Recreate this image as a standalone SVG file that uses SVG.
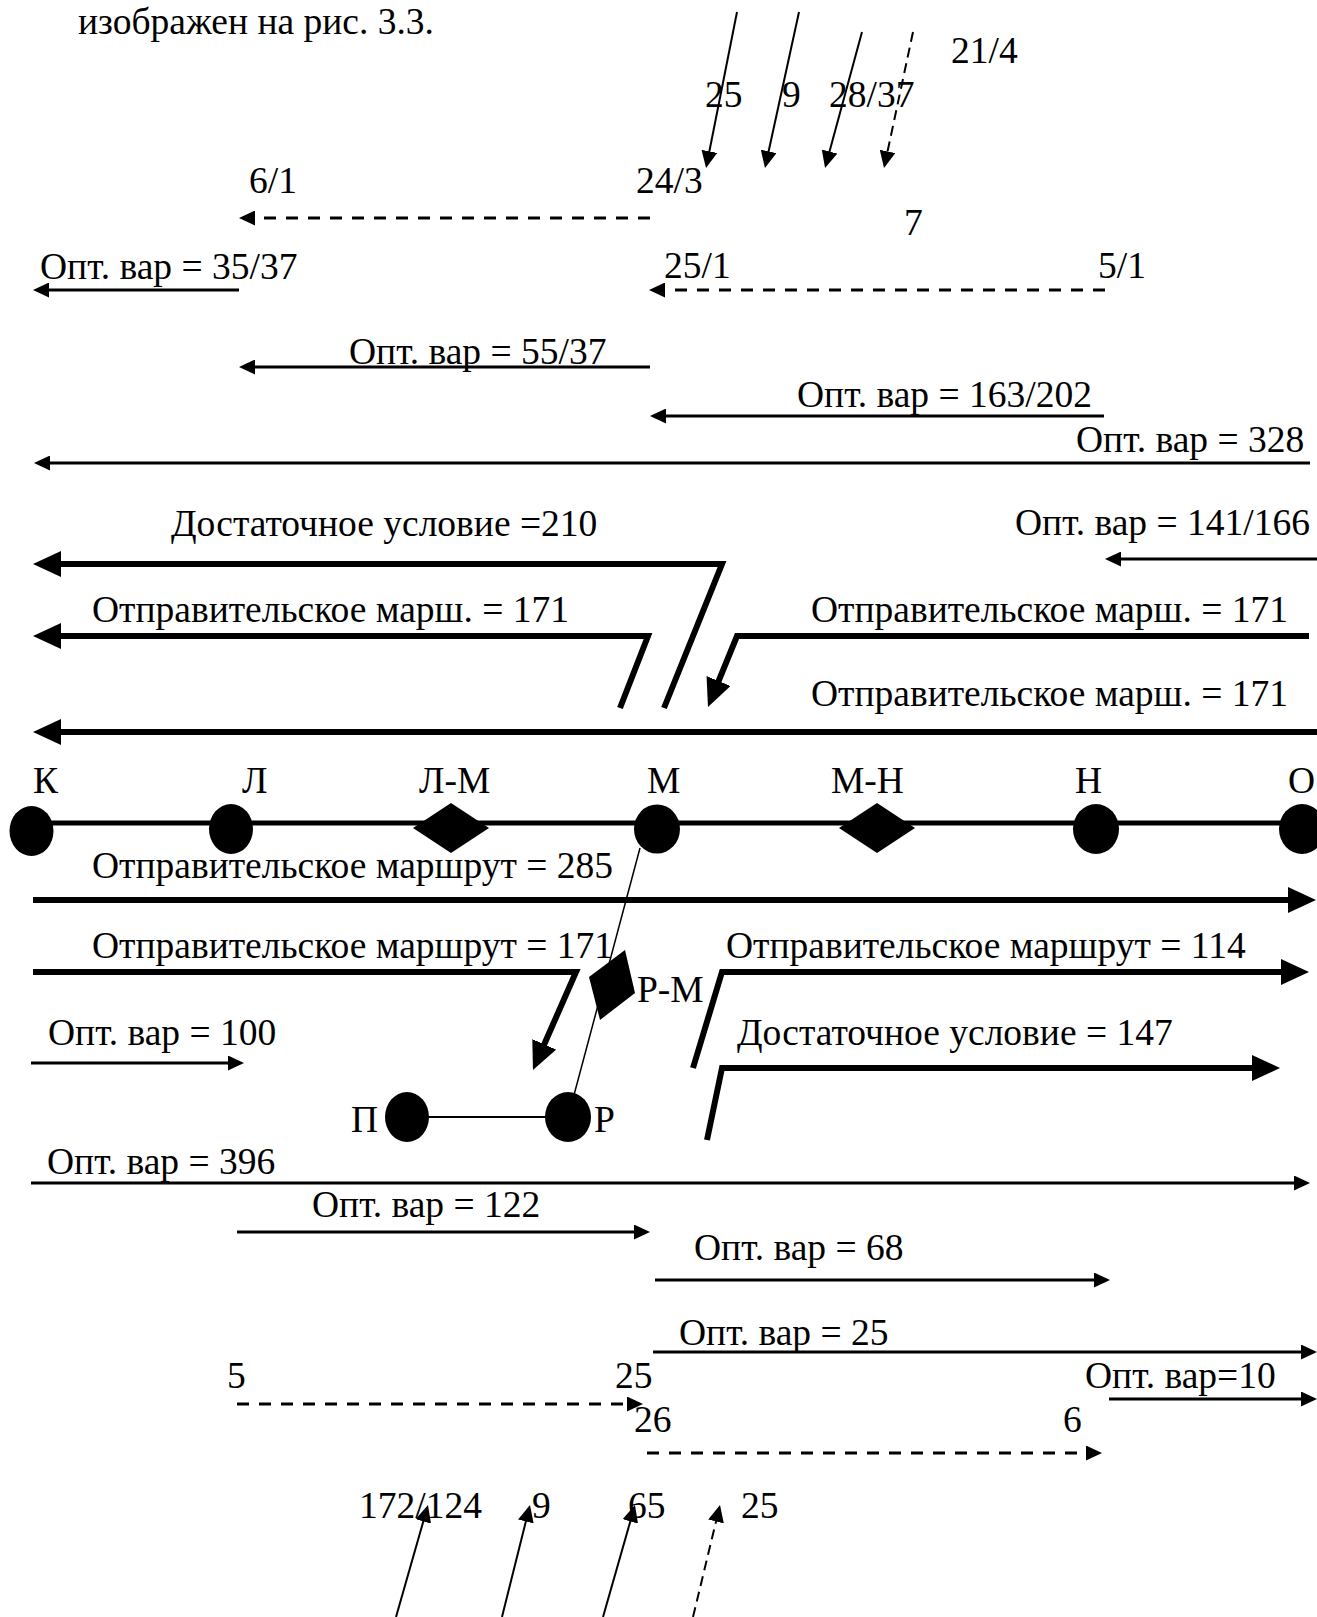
<svg xmlns="http://www.w3.org/2000/svg" width="1317" height="1617" viewBox="0 0 1317 1617">
  <style>
    text { font-family: "Liberation Serif", "Times New Roman", serif; font-size: 37.5px; fill: #000; }
    .thin { fill: none; stroke: #000; stroke-width: 3; }
    .thick { fill: none; stroke: #000; stroke-width: 6; stroke-linejoin: miter; stroke-miterlimit: 10; }
    .slim { fill: none; stroke: #000; stroke-width: 2; }
    .dash { fill: none; stroke: #000; stroke-width: 3; stroke-dasharray: 12 10; }
    .dash-slim { fill: none; stroke: #000; stroke-width: 2; stroke-dasharray: 10 6; }
    .track { fill: none; stroke: #000; stroke-width: 5; }
    .spur { fill: none; stroke: #000; stroke-width: 2; }
    .link { fill: none; stroke: #000; stroke-width: 1.5; }
    .dot, .rhomb { fill: #000; }
  </style>
  <defs>
    <marker id="ah" markerUnits="userSpaceOnUse" viewBox="0 0 16 15" markerWidth="16" markerHeight="15" refX="6" refY="7.5" orient="auto">
      <path d="M0,0 L16,7.5 L0,15 z" fill="#000"/>
    </marker>
    <marker id="ah-thick" markerUnits="userSpaceOnUse" viewBox="0 0 28 26" markerWidth="28" markerHeight="26" refX="10" refY="13" orient="auto">
      <path d="M0,0 L28,13 L0,26 z" fill="#000"/>
    </marker>
    <marker id="ah-slim" markerUnits="userSpaceOnUse" viewBox="0 0 17 16" markerWidth="17" markerHeight="16" refX="8" refY="8" orient="auto">
      <path d="M0,0 L17,8 L0,16 z" fill="#000"/>
    </marker>
  </defs>

  <rect width="1317" height="1617" fill="#fff"/>

  <!-- caption line above the figure -->
  <text x="78" y="34">изображен на рис. 3.3.</text>

  <!-- station line -->
  <g id="track">
    <line class="track" x1="31" y1="823" x2="1302" y2="823"/>
    <line class="spur" x1="407" y1="1117" x2="568" y2="1117"/>
    <line class="link" x1="640" y1="848" x2="574" y2="1095"/>
  </g>

  <!-- nodes -->
  <g id="node-K"><ellipse class="dot" cx="31.5" cy="831" rx="22" ry="25"/><text x="33" y="793">К</text></g>
  <g id="node-L"><ellipse class="dot" cx="231" cy="829" rx="22" ry="25"/><text x="242" y="793">Л</text></g>
  <g id="node-LM"><polygon class="rhomb" points="413,828 451,803 489,828 451,853"/><text x="419" y="793">Л-М</text></g>
  <g id="node-M"><ellipse class="dot" cx="657" cy="829" rx="23" ry="24.5"/><text x="647" y="793">М</text></g>
  <g id="node-MN"><polygon class="rhomb" points="839,828 877,803 915,828 877,853"/><text x="831" y="793">М-Н</text></g>
  <g id="node-N"><ellipse class="dot" cx="1096" cy="829" rx="23" ry="25"/><text x="1075" y="793">Н</text></g>
  <g id="node-O"><ellipse class="dot" cx="1302" cy="829" rx="23" ry="25"/><text x="1288" y="793">О</text></g>
  <g id="node-P"><ellipse class="dot" cx="407" cy="1117" rx="22" ry="25"/><text x="351" y="1132">П</text></g>
  <g id="node-R"><ellipse class="dot" cx="568" cy="1117" rx="23" ry="25"/><text x="594" y="1132">Р</text></g>
  <g id="node-RM"><polygon class="rhomb" points="625,950 635,993 600,1020 589,977"/><text x="637" y="1002">Р-М</text></g>

  <!-- flows -->
  <g id="connectors">
    <!-- incoming flows at M (top) -->
    <line class="slim" x1="737" y1="12" x2="707.8" y2="159.2" marker-end="url(#ah-slim)"/>
    <line class="slim" x1="799" y1="12" x2="766.9" y2="159.2" marker-end="url(#ah-slim)"/>
    <line class="slim" x1="862" y1="32" x2="827.4" y2="159.3" marker-end="url(#ah-slim)"/>
    <line class="dash-slim" x1="913" y1="32" x2="885.9" y2="159.2" marker-end="url(#ah-slim)"/>

    <!-- westbound -->
    <line class="dash" x1="650" y1="218" x2="249" y2="218" marker-end="url(#ah)"/>
    <line class="thin" x1="239" y1="290" x2="43" y2="290" marker-end="url(#ah)"/>
    <line class="dash" x1="1105" y1="290" x2="659" y2="290" marker-end="url(#ah)"/>
    <line class="thin" x1="650" y1="367" x2="249" y2="367" marker-end="url(#ah)"/>
    <line class="thin" x1="1104" y1="416" x2="660" y2="416" marker-end="url(#ah)"/>
    <line class="thin" x1="1310" y1="463" x2="44" y2="463" marker-end="url(#ah)"/>
    <line class="thin" x1="1317" y1="559" x2="1115" y2="559" marker-end="url(#ah)"/>
    <polyline class="thick" points="664,708 722,564 51,564" marker-end="url(#ah-thick)"/>
    <polyline class="thick" points="620,708 648,636 51,636" marker-end="url(#ah-thick)"/>
    <polyline class="thick" points="1309,636 737,636 714.8,690.3" marker-end="url(#ah-thick)"/>
    <line class="thick" x1="1317" y1="732" x2="51" y2="732" marker-end="url(#ah-thick)"/>

    <!-- eastbound -->
    <line class="thick" x1="33" y1="900" x2="1298" y2="900" marker-end="url(#ah-thick)"/>
    <polyline class="thick" points="33,972 576,972 540.2,1053.5" marker-end="url(#ah-thick)"/>
    <polyline class="thick" points="693,1068 722,972 1291,972" marker-end="url(#ah-thick)"/>
    <polyline class="thick" points="707,1140 722,1068 1262,1068" marker-end="url(#ah-thick)"/>
    <line class="thin" x1="31" y1="1063" x2="234" y2="1063" marker-end="url(#ah)"/>
    <line class="thin" x1="31" y1="1183" x2="1300" y2="1183" marker-end="url(#ah)"/>
    <line class="thin" x1="237" y1="1232" x2="640" y2="1232" marker-end="url(#ah)"/>
    <line class="thin" x1="655" y1="1280" x2="1100" y2="1280" marker-end="url(#ah)"/>
    <line class="thin" x1="653" y1="1352" x2="1307" y2="1352" marker-end="url(#ah)"/>
    <line class="thin" x1="1109" y1="1399" x2="1307" y2="1399" marker-end="url(#ah)"/>
    <line class="dash" x1="237" y1="1404" x2="633" y2="1404" marker-end="url(#ah)"/>
    <line class="dash" x1="647" y1="1453" x2="1092" y2="1453" marker-end="url(#ah)"/>

    <!-- outgoing flows at M (bottom) -->
    <line class="slim" x1="396" y1="1617" x2="425.5" y2="1513.7" marker-end="url(#ah-slim)"/>
    <line class="slim" x1="502" y1="1617" x2="527.8" y2="1513.7" marker-end="url(#ah-slim)"/>
    <line class="slim" x1="603" y1="1617" x2="632.5" y2="1513.7" marker-end="url(#ah-slim)"/>
    <line class="dash-slim" x1="693" y1="1617" x2="717.9" y2="1513.7" marker-end="url(#ah-slim)"/>
  </g>

  <!-- flow labels -->
  <g id="labels">
    <text x="951" y="63">21/4</text>
    <text x="705" y="107">25</text>
    <text x="782" y="107">9</text>
    <text x="829" y="107">28/37</text>
    <text x="249" y="193">6/1</text>
    <text x="636" y="193">24/3</text>
    <text x="904" y="235">7</text>
    <text x="40" y="279">Опт. вар = 35/37</text>
    <text x="664" y="278">25/1</text>
    <text x="1098" y="278">5/1</text>
    <text x="349" y="364">Опт. вар = 55/37</text>
    <text x="797" y="407">Опт. вар = 163/202</text>
    <text x="1076" y="452">Опт. вар = 328</text>
    <text x="171" y="536">Достаточное условие =210</text>
    <text x="1015" y="535">Опт. вар = 141/166</text>
    <text x="92" y="622">Отправительское марш. = 171</text>
    <text x="811" y="622">Отправительское марш. = 171</text>
    <text x="811" y="706">Отправительское марш. = 171</text>
    <text x="92" y="878">Отправительское маршрут = 285</text>
    <text x="92" y="958">Отправительское маршрут = 171</text>
    <text x="726" y="958">Отправительское маршрут = 114</text>
    <text x="48" y="1045">Опт. вар = 100</text>
    <text x="737" y="1045">Достаточное условие = 147</text>
    <text x="47" y="1174">Опт. вар = 396</text>
    <text x="312" y="1217">Опт. вар = 122</text>
    <text x="694" y="1260">Опт. вар = 68</text>
    <text x="679" y="1345">Опт. вар = 25</text>
    <text x="227" y="1388">5</text>
    <text x="615" y="1388">25</text>
    <text x="1085" y="1388">Опт. вар=10</text>
    <text x="634" y="1432">26</text>
    <text x="1063" y="1432">6</text>
    <text x="359" y="1518">172/124</text>
    <text x="532" y="1518">9</text>
    <text x="628" y="1518">65</text>
    <text x="741" y="1518">25</text>
  </g>
</svg>
